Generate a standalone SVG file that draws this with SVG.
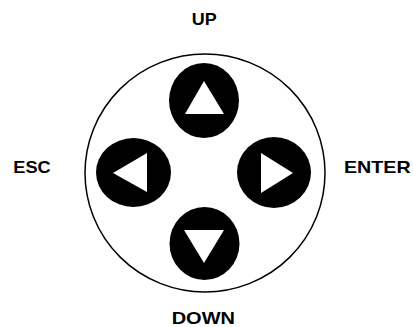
<svg xmlns="http://www.w3.org/2000/svg" width="413" height="327" viewBox="0 0 413 327">
<style>
.lbl{font-family:"Liberation Sans",Arial,sans-serif;font-weight:bold;font-size:16.3px;fill:#000}
.btn{fill:#000}
.arr{fill:#fff}
</style>
<rect width="413" height="327" fill="#fff"/>
<g id="pad">
<ellipse cx="205" cy="173" rx="120" ry="119" fill="#fff" stroke="#000" stroke-width="1.5"/>
</g>
<g id="btn-up">
<ellipse class="btn" cx="204" cy="100.5" rx="35" ry="37.5"/>
<polygon class="arr" points="204,81 224,114 185,114"/>
</g>
<g id="btn-left">
<ellipse class="btn" cx="133.5" cy="172.5" rx="37.5" ry="34.5"/>
<polygon class="arr" points="113,173 147,153 147,192"/>
</g>
<g id="btn-right">
<ellipse class="btn" cx="274" cy="172.5" rx="37" ry="35.5"/>
<polygon class="arr" points="293,173 261,153 261,193"/>
</g>
<g id="btn-down">
<ellipse class="btn" cx="204.5" cy="243.5" rx="35" ry="36.5"/>
<polygon class="arr" points="204,263 184,230 224,230"/>
</g>
<g id="connectors"></g>
<g id="labels">
<text class="lbl" x="191.7" y="25" textLength="25" lengthAdjust="spacingAndGlyphs">UP</text>
<text class="lbl" x="13.3" y="172.7" textLength="37.4" lengthAdjust="spacingAndGlyphs">ESC</text>
<text class="lbl" x="344" y="172.7" textLength="66.7" lengthAdjust="spacingAndGlyphs">ENTER</text>
<text class="lbl" x="171.7" y="324.3" textLength="63.3" lengthAdjust="spacingAndGlyphs">DOWN</text>
</g>
</svg>
